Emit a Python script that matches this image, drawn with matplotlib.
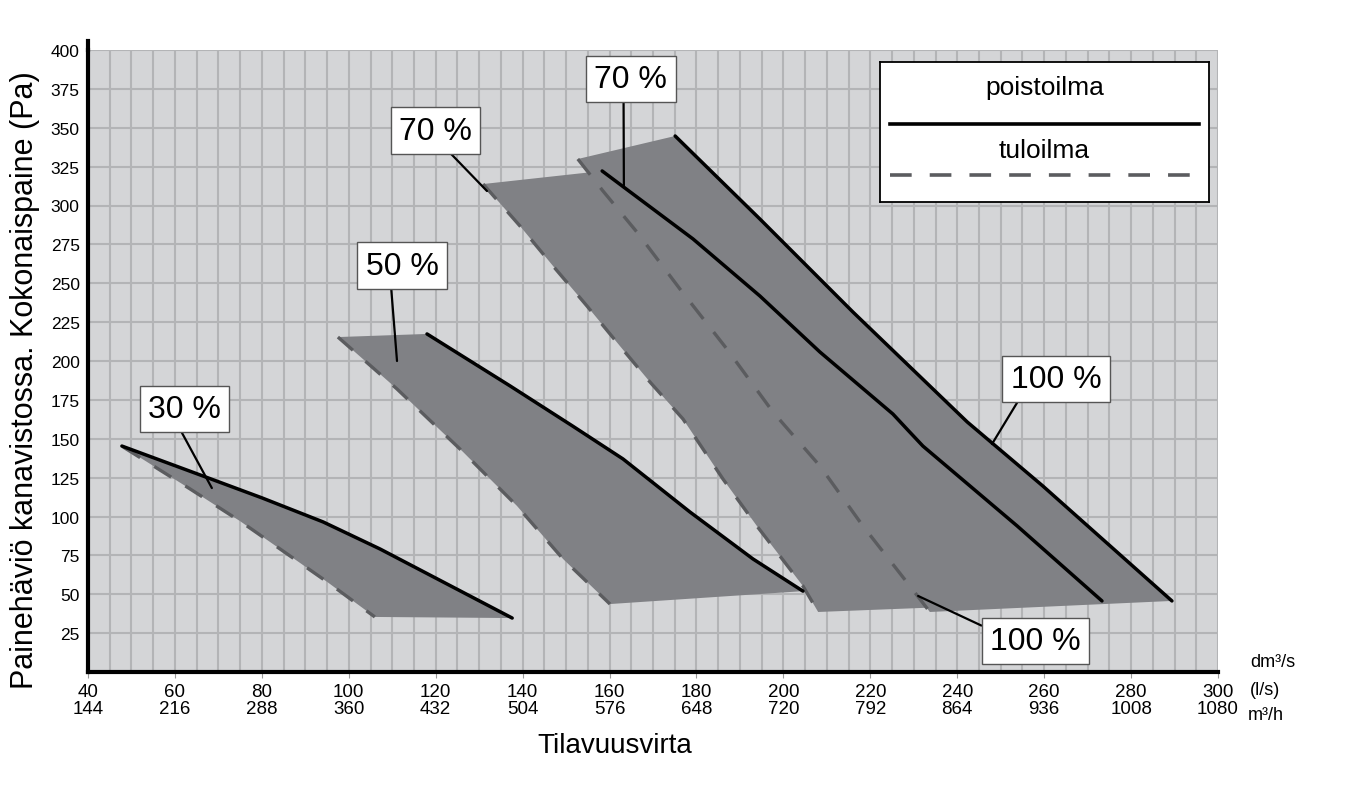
import matplotlib.pyplot as plt

plt.rcParams['font.family'] = ['Liberation Sans', 'DejaVu Sans']

# poistoilma (solid) and tuloilma (dashed) curves, x in dm3/s, y in Pa
sol_30_x = [47.8, 66.5, 80.0, 94.1, 107.2, 137.6]
sol_30_y = [145.3, 126.0, 112.0, 96.5, 79.1, 34.7]
dash_30_x = [48.1, 63.5, 75.0, 84.2, 95.0, 106.0]
dash_30_y = [144.7, 117.7, 97.0, 79.1, 58.0, 35.4]

sol_50_x = [118.0, 137.1, 151.6, 163.1, 178.5, 193.0, 204.5]
sol_50_y = [217.4, 184.0, 158.0, 137.0, 102.9, 72.7, 52.0]
dash_50_x = [97.5, 111.1, 126.3, 138.7, 149.3, 160.1]
dash_50_y = [215.4, 182.0, 141.5, 106.8, 72.7, 43.7]

sol_70_x = [158.3, 179.2, 194.6, 208.4, 225.2, 228.4, 232.1, 253.8, 273.3]
sol_70_y = [322.2, 278.5, 241.8, 205.8, 165.9, 156.3, 145.3, 93.9, 45.7]
dash_70_x = [130.9, 139.4, 147.0, 154.8, 162.4, 169.3, 176.9, 186.1, 193.9, 204.5, 208.0]
dash_70_y = [313.8, 286.8, 261.1, 235.4, 209.6, 186.5, 162.7, 124.1, 93.9, 55.3, 38.6]

sol_100_x = [175.1, 194.6, 216.0, 242.3, 259.7, 289.4]
sol_100_y = [344.7, 291.3, 231.5, 160.8, 119.6, 45.7]
dash_100_x = [152.7, 158.5, 166.3, 176.2, 187.0, 197.6, 208.4, 218.3, 229.1, 233.7]
dash_100_y = [329.9, 309.3, 282.9, 246.3, 207.7, 167.2, 132.5, 93.9, 55.3, 38.6]

# callout labels: text, box centre, pointed spot
labels = ['30 %', '50 %', '70 %', '70 %', '100 %', '100 %']
label_xy = [(62.2, 169.1), (112.3, 261.4), (120.0, 348.2), (164.9, 381.4), (262.7, 188.4), (258.0, 19.9)]
point_xy = [(68.5, 118.3), (111.1, 200.0), (131.8, 309.3), (163.3, 312.5), (248.0, 146.6), (231.0, 48.9)]
leader_rel = [(0.40, 0), (0.34, 0), (0.60, 0), (0.40, 0), (0.13, 0), (0, 0.88)]

x_ls = [40, 60, 80, 100, 120, 140, 160, 180, 200, 220, 240, 260, 280, 300]
x_m3h = [144, 216, 288, 360, 432, 504, 576, 648, 720, 792, 864, 936, 1008, 1080]
y_ticks = [25, 50, 75, 100, 125, 150, 175, 200, 225, 250, 275, 300, 325, 350, 375, 400]

fill_c = '#808185'
dash_c = '#5b5c5f'
dash_style = (0, (6, 5))

fig = plt.figure(figsize=(13.45, 8.03), dpi=100)
ax = fig.add_axes([88 / 1345, 1 - 673 / 803, 1130 / 1345, 622 / 803])
ax.set_facecolor('#d4d5d7')
ax.set_xlim(40, 300)
ax.set_ylim(0, 400)

ax.set_xticks(x_ls)
ax.set_xticks(range(40, 301, 5), minor=True)
ax.set_yticks(y_ticks)
ax.grid(True, which='both', color='#b3b4b6', lw=1.5)
ax.set_axisbelow(True)
ax.set_xticklabels(['%d\n%d' % (a, b) for a, b in zip(x_ls, x_m3h)], fontsize=13.5, linespacing=1.0)
ax.set_yticklabels([str(v) for v in y_ticks], fontsize=12.5)
ax.tick_params(axis='x', which='major', length=4, color='#999999', pad=4)
ax.tick_params(axis='x', which='minor', length=0)
ax.tick_params(axis='y', length=0, pad=6)
for s in ['top', 'right']:
    ax.spines[s].set_visible(False)
for s in ['left', 'bottom']:
    ax.spines[s].set_linewidth(3)
ax.plot([0, 0], [1, 1.015], transform=ax.transAxes, color='k', lw=3, clip_on=False)

bands = [(sol_30_x, sol_30_y, dash_30_x, dash_30_y),
         (sol_50_x, sol_50_y, dash_50_x, dash_50_y),
         (sol_70_x, sol_70_y, dash_70_x, dash_70_y),
         (sol_100_x, sol_100_y, dash_100_x, dash_100_y)]
for sx, sy, dx, dy in bands:
    ax.fill(dx + sx[::-1], dy + sy[::-1], color=fill_c, lw=0, zorder=2)
for sx, sy, dx, dy in bands:
    ax.plot(dx, dy, color=dash_c, lw=2.4, ls=dash_style, zorder=3)
    ax.plot(sx, sy, color='k', lw=2.5, zorder=4, solid_capstyle='round')

for t, lxy, pxy, rp in zip(labels, label_xy, point_xy, leader_rel):
    ax.annotate(t, xy=pxy, xytext=lxy, ha='center', va='center', fontsize=23, zorder=6,
                bbox=dict(boxstyle='square,pad=0.26', fc='white', ec='#555555', lw=1),
                arrowprops=dict(arrowstyle='-', color='k', lw=1.6, shrinkA=0, shrinkB=0, relpos=rp))

# legend box
lg = fig.add_axes([880 / 1345, 1 - 203 / 803, 329 / 1345, 140 / 803])
lg.set_xlim(0, 1)
lg.set_ylim(0, 1)
lg.set_xticks([])
lg.set_yticks([])
for s in lg.spines.values():
    s.set_linewidth(1.3)
lg.text(0.5, 0.82, 'poistoilma', ha='center', va='center', fontsize=19)
lg.plot([0.03, 0.97], [0.557, 0.557], color='k', lw=2.6)
lg.text(0.5, 0.37, 'tuloilma', ha='center', va='center', fontsize=19)
lg.plot([0.03, 0.97], [0.193, 0.193], color=dash_c, lw=2.6, ls=dash_style)

fig.text(1250 / 1345, 1 - 663 / 803, 'dm³/s', fontsize=13, va='center')
fig.text(1250 / 1345, 1 - 691 / 803, '(l/s)', fontsize=13, va='center')
fig.text(1248 / 1345, 1 - 716 / 803, 'm³/h', fontsize=13, va='center')

fig.text(615 / 1345, 1 - 746 / 803, 'Tilavuusvirta', fontsize=20, ha='center', va='center')
fig.text(25 / 1345, 1 - 380 / 803, 'Painehäviö kanavistossa. Kokonaispaine (Pa)', fontsize=22,
         rotation=90, ha='center', va='center')

fig.savefig('out.png', dpi=100)
